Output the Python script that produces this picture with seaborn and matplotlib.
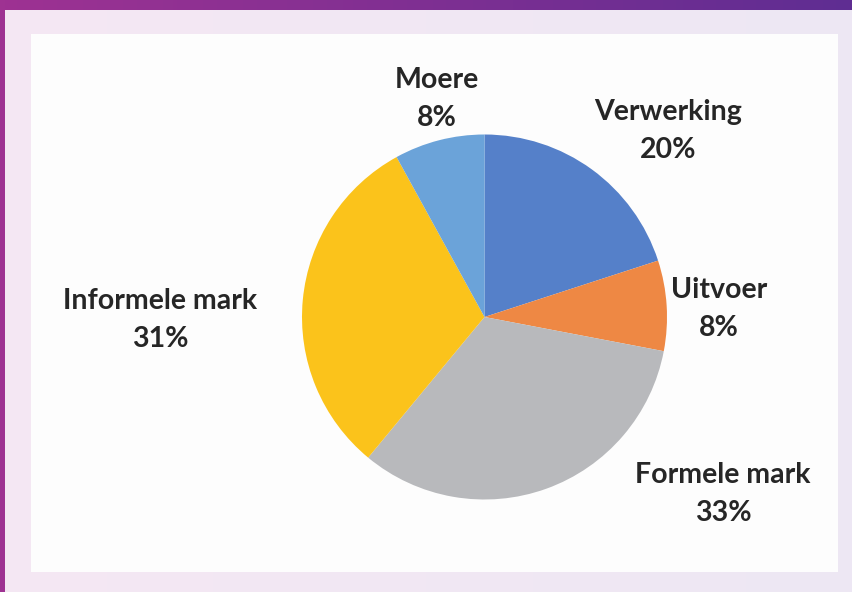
import numpy as np
import matplotlib
matplotlib.use("Agg")
import matplotlib.pyplot as plt
from matplotlib.patches import Rectangle
import seaborn as sns

# data
categories = ["Verwerking", "Uitvoer", "Formele mark", "Informele mark", "Moere"]
shares = [20, 8, 33, 31, 8]
slice_colors = ["#5580C9", "#EE8844", "#B8B9BC", "#FBC31B", "#6BA3D9"]

sns.set_theme(style="white")
plt.rcParams['font.family'] = ['Lato', 'DejaVu Sans']

W, H = 853, 592
fig = plt.figure(figsize=(W / 100, H / 100), dpi=100)
ax = fig.add_axes([0, 0, 1, 1])
ax.set_xlim(0, W)
ax.set_ylim(0, H)
ax.set_aspect('equal')
ax.axis('off')

# background (light lavender gradient)
bg = np.linspace(0, 1, 256)[None, :]
bg_cmap = matplotlib.colors.LinearSegmentedColormap.from_list("bg", ["#F5E8F3", "#EDE7F4"])
ax.imshow(bg, cmap=bg_cmap, extent=[0, W, 0, H], aspect='auto', zorder=0)

# purple band on top and left
band_cmap = matplotlib.colors.LinearSegmentedColormap.from_list("band", ["#9E3292", "#5F2D92"])
ax.imshow(bg, cmap=band_cmap, extent=[0, W, H - 10, H], aspect='auto', zorder=1)
ax.add_patch(Rectangle((0, 0), 5, H, color="#9E3292", lw=0, zorder=1))

# white panel
ax.add_patch(Rectangle((31, 20), 807, 538, color="#FDFDFD", lw=0, zorder=2))

# pie
wedges, _ = ax.pie(shares, colors=slice_colors, startangle=90, counterclock=False,
                   center=(484.5, 275), radius=182.5, frame=True,
                   wedgeprops=dict(linewidth=0))
for w in wedges:
    w.set_zorder(3)
ax.set_xlim(0, W)
ax.set_ylim(0, H)
ax.axis('off')

# label positions (centre of two-line label block)
label_pos = [(668, 461), (719, 283), (723, 98), (160, 272), (437, 493)]
for name, val, (lx, ly) in zip(categories, shares, label_pos):
    ax.text(lx, ly, f"{name}\n{val}%", ha='center', va='center', fontsize=20.5,
            fontweight='bold', color="#262626", linespacing=1.55, zorder=4)

fig.savefig("out.png", dpi=100)
